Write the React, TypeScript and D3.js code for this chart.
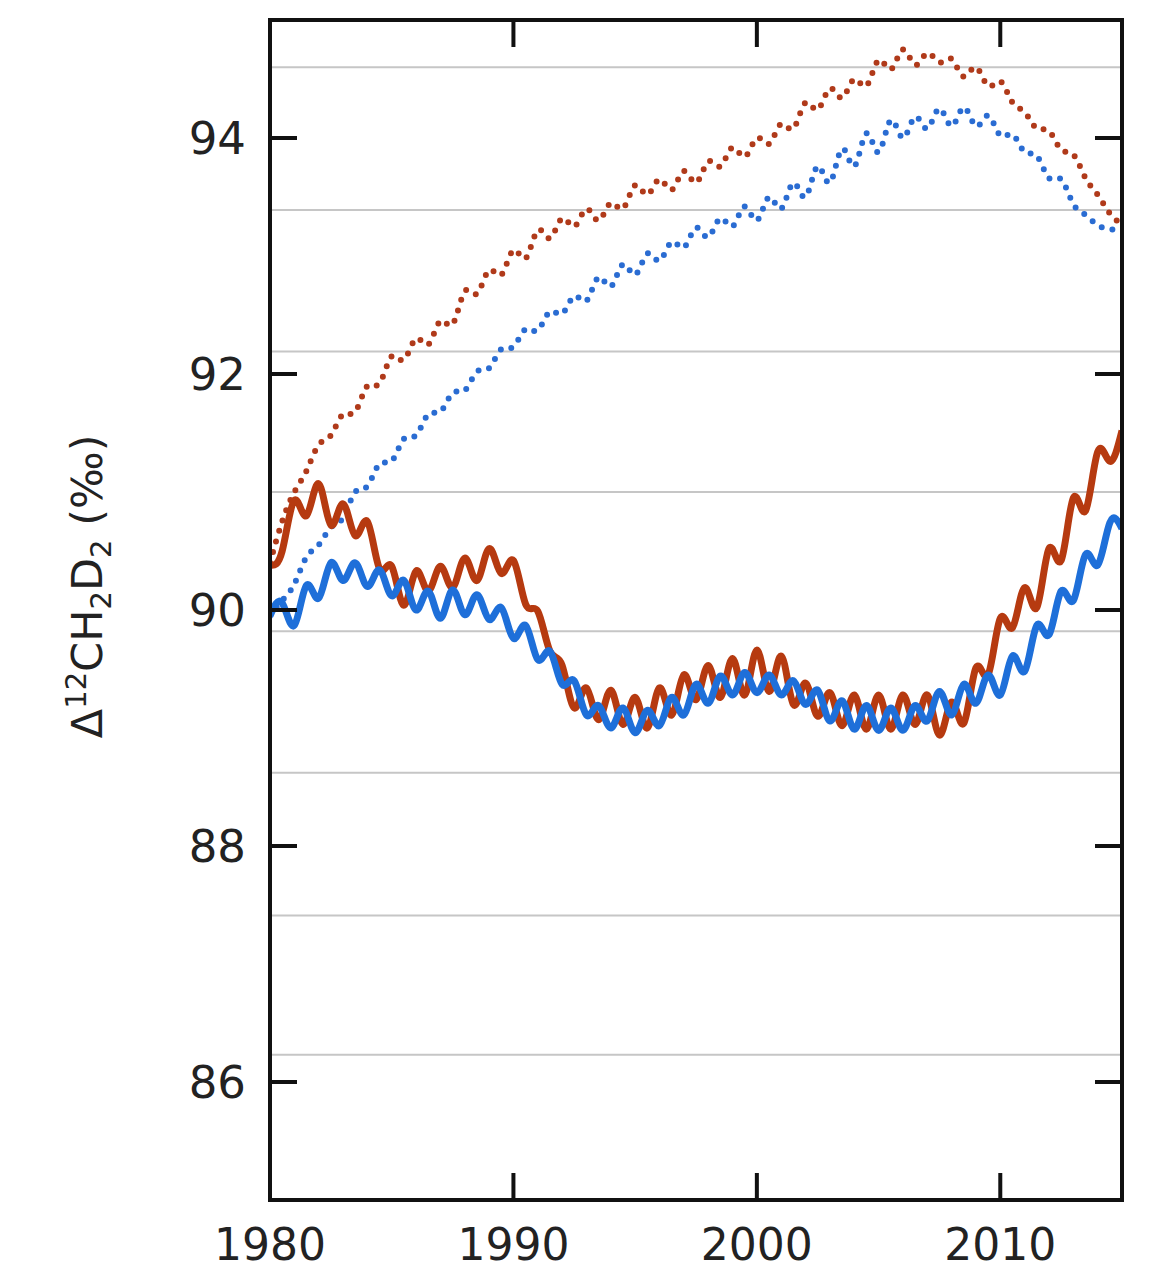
import React, { useRef, useEffect } from "react";
import * as d3 from "d3";

// half-year time steps, 1980.0 .. 2015.0
const halfYears = d3.range(1980, 2015.01, 0.5);

// solid red curve (peaks near whole years)
const redSolid = [
  90.38, 90.5, 90.93, 90.8, 91.07, 90.72, 90.9, 90.63, 90.75, 90.35,
  90.37, 90.04, 90.33, 90.16, 90.37, 90.19, 90.44, 90.25, 90.52, 90.31,
  90.42, 90.05, 89.99, 89.65, 89.53, 89.17, 89.34, 89.07, 89.32, 89.03,
  89.26, 89.0, 89.34, 89.11, 89.45, 89.24, 89.53, 89.26, 89.59, 89.28,
  89.66, 89.31, 89.61, 89.2, 89.38, 89.1, 89.3, 89.02, 89.28, 88.99,
  89.28, 88.99, 89.28, 89.03, 89.28, 88.94, 89.22, 89.04, 89.51, 89.45,
  89.93, 89.85, 90.19, 90.02, 90.52, 90.42, 90.95, 90.84, 91.34, 91.26,
  91.52,
];

// solid blue curve (troughs near whole years)
const blueSolid = [
  89.95, 90.06, 89.87, 90.21, 90.1, 90.4, 90.25, 90.4, 90.2, 90.34,
  90.12, 90.25, 90.0, 90.16, 89.93, 90.17, 89.96, 90.13, 89.92, 90.02,
  89.76, 89.87, 89.58, 89.65, 89.37, 89.4, 89.11, 89.19, 89.0, 89.17,
  88.96, 89.15, 89.02, 89.26, 89.11, 89.37, 89.21, 89.44, 89.28, 89.47,
  89.3, 89.45, 89.28, 89.4, 89.2, 89.32, 89.06, 89.23, 88.99, 89.19,
  88.98, 89.17, 88.98, 89.19, 89.06, 89.31, 89.11, 89.37, 89.21, 89.45,
  89.28, 89.61, 89.48, 89.87, 89.79, 90.16, 90.08, 90.47, 90.38, 90.74,
  90.69,
];

// dotted red curve
const redDotted = [
  90.4, 90.75, 91.0, 91.18, 91.4, 91.48, 91.66, 91.68, 91.9, 91.92,
  92.15, 92.12, 92.3, 92.25, 92.45, 92.42, 92.7, 92.68, 92.88, 92.84,
  93.05, 92.98, 93.22, 93.15, 93.32, 93.25, 93.4, 93.3, 93.45, 93.4,
  93.6, 93.52, 93.65, 93.56, 93.72, 93.62, 93.8, 93.76, 93.92, 93.84,
  94.0, 93.95, 94.12, 94.08, 94.3, 94.24, 94.42, 94.34, 94.5, 94.44,
  94.66, 94.58, 94.75, 94.62, 94.72, 94.64, 94.67, 94.52, 94.6, 94.44,
  94.48, 94.3, 94.22, 94.08, 94.06, 93.9, 93.86, 93.66, 93.52, 93.36,
  93.27,
];

// dotted blue curve
const blueDotted = [
  89.95, 90.08, 90.22, 90.45, 90.55, 90.7, 90.78, 91.0, 91.05, 91.24,
  91.26, 91.45, 91.48, 91.66, 91.68, 91.84, 91.86, 92.02, 92.05, 92.21,
  92.23, 92.38, 92.37, 92.53, 92.51, 92.66, 92.62, 92.82, 92.74, 92.93,
  92.84, 93.02, 92.96, 93.12, 93.07, 93.24, 93.16, 93.32, 93.25, 93.42,
  93.3, 93.5, 93.4, 93.62, 93.5, 93.76, 93.62, 93.91, 93.76, 94.04,
  93.88, 94.15, 94.0, 94.18, 94.08, 94.25, 94.1, 94.26, 94.1, 94.19,
  94.02, 94.03, 93.88, 93.85, 93.66, 93.65, 93.44, 93.35, 93.26, 93.23,
  93.2,
];

const xTicks = [1980, 1990, 2000, 2010];
const yTicks = [86, 88, 90, 92, 94];
const gridValues = [94.6, 93.39, 92.19, 91.0, 89.82, 88.62, 87.41, 86.23];

const W = 1158;
const H = 1273;

const Chart = () => {
  const ref = useRef(null);

  useEffect(() => {
    if (!ref.current) return;
    const svg = d3.select(ref.current);
    svg.selectAll("*").remove();

    const margin = { top: 20, right: 36, bottom: 73, left: 270 };
    const width = W - margin.left - margin.right;
    const height = H - margin.top - margin.bottom;

    const x = d3.scaleLinear().domain([1980, 2015]).range([0, width]);
    const y = d3.scaleLinear().domain([85, 95]).range([height, 0]);

    const g = svg
      .append("g")
      .attr("transform", `translate(${margin.left},${margin.top})`);

    svg
      .append("defs")
      .append("clipPath")
      .attr("id", "plotClip")
      .append("rect")
      .attr("width", width)
      .attr("height", height);

    // grey horizontal lines
    g.selectAll(".grid")
      .data(gridValues)
      .enter()
      .append("line")
      .attr("x1", 0)
      .attr("x2", width)
      .attr("y1", (d) => y(d))
      .attr("y2", (d) => y(d))
      .attr("stroke", "#c6c6c6")
      .attr("stroke-width", 2);

    const plot = g.append("g").attr("clip-path", "url(#plotClip)");

    const line = d3
      .line()
      .x((d, i) => x(halfYears[i]))
      .y((d) => y(d))
      .curve(d3.curveNatural);

    // dotted series
    plot
      .append("path")
      .attr("d", line(blueDotted))
      .attr("fill", "none")
      .attr("stroke", "#2a6cd2")
      .attr("stroke-width", 6)
      .attr("stroke-linecap", "round")
      .attr("stroke-dasharray", "0 11");

    plot
      .append("path")
      .attr("d", line(redDotted))
      .attr("fill", "none")
      .attr("stroke", "#b03a1a")
      .attr("stroke-width", 6)
      .attr("stroke-linecap", "round")
      .attr("stroke-dasharray", "0 11");

    // solid series
    plot
      .append("path")
      .attr("d", line(redSolid))
      .attr("fill", "none")
      .attr("stroke", "#b63a10")
      .attr("stroke-width", 7)
      .attr("stroke-linejoin", "round");

    plot
      .append("path")
      .attr("d", line(blueSolid))
      .attr("fill", "none")
      .attr("stroke", "#1e6fd9")
      .attr("stroke-width", 7)
      .attr("stroke-linejoin", "round");

    // frame
    g.append("rect")
      .attr("width", width)
      .attr("height", height)
      .attr("fill", "none")
      .attr("stroke", "#111")
      .attr("stroke-width", 4);

    const tickLen = 27;
    const tickColor = "#111";

    // x ticks, bottom and top, pointing inward
    xTicks.forEach((t) => {
      if (t !== 1980) {
        g.append("line")
          .attr("x1", x(t))
          .attr("x2", x(t))
          .attr("y1", height)
          .attr("y2", height - tickLen)
          .attr("stroke", tickColor)
          .attr("stroke-width", 4);
        g.append("line")
          .attr("x1", x(t))
          .attr("x2", x(t))
          .attr("y1", 0)
          .attr("y2", tickLen)
          .attr("stroke", tickColor)
          .attr("stroke-width", 4);
      }
      g.append("text")
        .attr("x", x(t))
        .attr("y", height + 60)
        .attr("text-anchor", "middle")
        .attr("font-family", "DejaVu Sans")
        .attr("font-size", 44)
        .attr("fill", "#222")
        .text(t);
    });

    // y ticks, left and right
    yTicks.forEach((t) => {
      g.append("line")
        .attr("x1", 0)
        .attr("x2", tickLen)
        .attr("y1", y(t))
        .attr("y2", y(t))
        .attr("stroke", tickColor)
        .attr("stroke-width", 4);
      g.append("line")
        .attr("x1", width)
        .attr("x2", width - tickLen)
        .attr("y1", y(t))
        .attr("y2", y(t))
        .attr("stroke", tickColor)
        .attr("stroke-width", 4);
      g.append("text")
        .attr("x", -24)
        .attr("y", y(t))
        .attr("dy", "0.36em")
        .attr("text-anchor", "end")
        .attr("font-family", "DejaVu Sans")
        .attr("font-size", 45)
        .attr("fill", "#222")
        .text(t);
    });

    // y axis label
    const label = svg
      .append("text")
      .attr("transform", `translate(102,${margin.top + y(90.2)}) rotate(-90)`)
      .attr("text-anchor", "middle")
      .attr("font-family", "DejaVu Sans")
      .attr("font-size", 43)
      .attr("fill", "#222");
    label.append("tspan").text("Δ");
    label.append("tspan").attr("font-size", 29).attr("dy", -16).text("12");
    label.append("tspan").attr("dy", 16).text("CH");
    label.append("tspan").attr("font-size", 29).attr("dy", 9).text("2");
    label.append("tspan").attr("dy", -9).text("D");
    label.append("tspan").attr("font-size", 29).attr("dy", 9).text("2");
    label.append("tspan").attr("dy", -9).text(" (‰)");
  }, []);

  return (
    <svg
      ref={ref}
      width={W}
      height={H}
      style={{ position: "absolute", left: 0, top: 0, background: "#fff" }}
    />
  );
};

export default function App() {
  return <Chart />;
}
